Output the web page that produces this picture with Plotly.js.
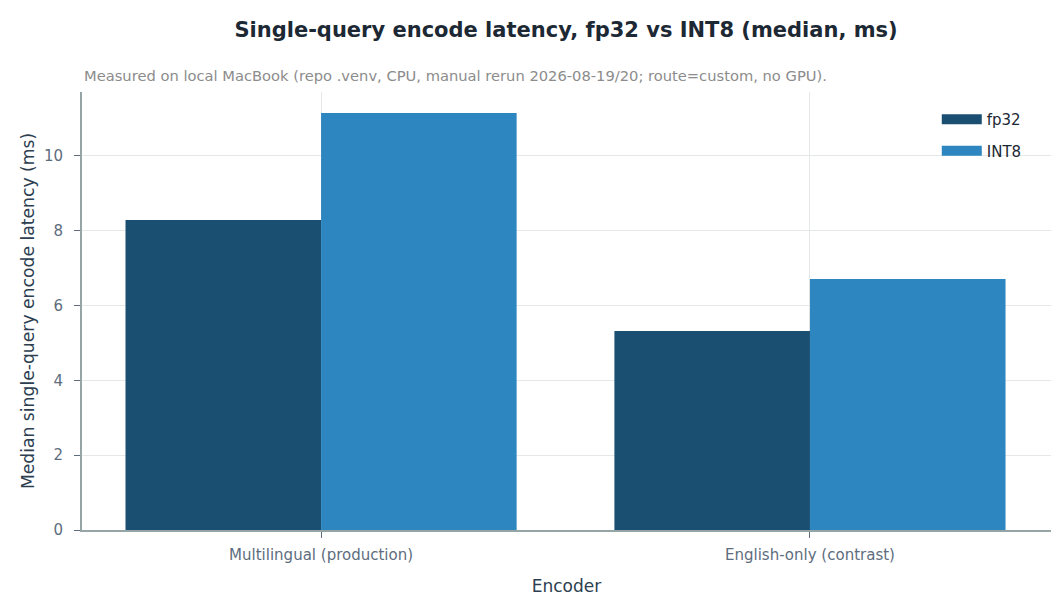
<!DOCTYPE html>
<html>
<head>
<meta charset="utf-8">
<script src="https://cdn.plot.ly/plotly-3.0.1.min.js"></script>
<style>
  html, body { margin: 0; padding: 0; background: #fff; }
  #chart { width: 1064px; height: 615px; }
</style>
</head>
<body>
<div id="chart"></div>
<script>
// encoders on the x axis
const ENCODERS = ['Multilingual (production)', 'English-only (contrast)'];
// median latency, ms
const FP32_MS = [8.29, 5.32];
const INT8_MS = [11.15, 6.71];

const FONT = '"DejaVu Sans", sans-serif';
const C_FP32 = '#1b4f72';
const C_INT8 = '#2e86c1';

var data = [
    {
        x: ENCODERS, y: FP32_MS, name: 'fp32', type: 'bar',
        marker: {color: C_FP32}, showlegend: false, hoverinfo: 'none'
    },
    {
        x: ENCODERS, y: INT8_MS, name: 'INT8', type: 'bar',
        marker: {color: C_INT8}, showlegend: false, hoverinfo: 'none'
    },
    //legend only: wide swatches
    {
        x: [null], y: [null], name: 'fp32', type: 'scatter', mode: 'lines',
        legendgroup: 'fp32',
        line: {color: C_FP32, width: 13}, hoverinfo: 'none'
    },
    {
        x: [null], y: [null], name: 'INT8', type: 'scatter', mode: 'lines',
        legendgroup: 'int8',
        line: {color: C_INT8, width: 13}, hoverinfo: 'none'
    }
];

var layout = {
    width: 1064, height: 615,
    margin: {l: 82, r: 13, t: 92, b: 85},
    paper_bgcolor: '#fff', plot_bgcolor: '#fff',
    font: {family: FONT, color: '#5d6d7e', size: 14},
    barmode: 'group', bargap: 0.2, bargroupgap: 0,
    title: {
        text: '<b>Single-query encode latency, fp32 vs INT8 (median, ms)</b>',
        font: {family: FONT, size: 21, color: '#1c2833'},
        x: 0.532, xanchor: 'center', y: 0.952, yanchor: 'middle'
    },
    annotations: [{
        text: 'Measured on local MacBook (repo .venv, CPU, manual rerun 2026-08-19/20; route=custom, no GPU).',
        xref: 'paper', yref: 'paper', x: 0, y: 1, xanchor: 'left', yanchor: 'bottom',
        yshift: 6, showarrow: false, font: {family: FONT, size: 14.7, color: '#8c8c8c'}
    }],
    xaxis: {
        title: {text: 'Encoder', font: {size: 17, color: '#2c3e50'}, standoff: 17},
        range: [-0.489, 1.493],
        showline: true, linecolor: '#95a5a6', linewidth: 2,
        showgrid: true, gridcolor: '#e5e8e8',
        ticks: 'outside', ticklen: 6, tickcolor: '#5d6d7e', tickwidth: 1,
        ticklabelstandoff: 4,
        tickfont: {size: 15, color: '#5d6d7e'}, zeroline: false
    },
    yaxis: {
        title: {text: 'Median single-query encode latency (ms)', font: {size: 17.2, color: '#2c3e50'}, standoff: 5},
        range: [0, 11.71], dtick: 2,
        showline: true, linecolor: '#95a5a6', linewidth: 2,
        showgrid: true, gridcolor: '#e5e8e8',
        ticks: 'outside', ticklen: 6, tickcolor: '#5d6d7e', tickwidth: 1,
        ticklabelstandoff: 8,
        tickfont: {size: 15, color: '#5d6d7e'}, zeroline: false
    },
    legend: {
        x: 0.975, y: 0.975, xanchor: 'right', yanchor: 'top',
        bgcolor: 'rgba(0,0,0,0)', font: {size: 15, color: '#1c2833'},
        itemwidth: 40, tracegroupgap: 9
    }
};

Plotly.newPlot('chart', data, layout, {displayModeBar: false, staticPlot: true});
</script>
</body>
</html>
